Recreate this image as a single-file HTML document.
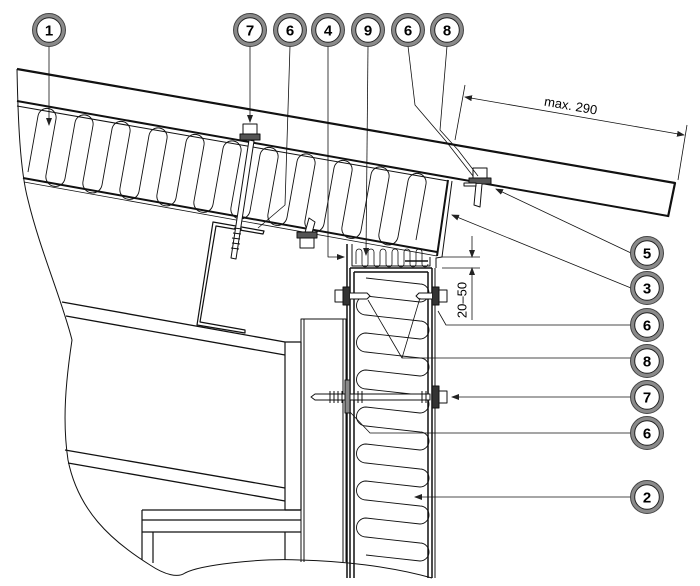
<!DOCTYPE html>
<html><head><meta charset="utf-8"><style>
html,body{margin:0;padding:0;background:#fff}
svg{display:block}
text{font-family:"Liberation Sans",sans-serif}
</style></head><body>
<svg width="700" height="586" viewBox="0 0 700 586" xmlns="http://www.w3.org/2000/svg">
<defs>
<marker id="ar" markerWidth="8" markerHeight="6" refX="7" refY="3" orient="auto" markerUnits="userSpaceOnUse"><path d="M0,0 L8,3 L0,6 z" fill="#222"/></marker>
<g id="hex"><rect x="-6" y="-5" width="12" height="10" fill="#fff" stroke="#111" stroke-width="1.2"/><line x1="-6" y1="0" x2="6" y2="0" stroke="#111"/></g>
</defs>
<g fill="none" stroke="#111" stroke-linejoin="round">
<!-- left break line -->
<path d="M17,69 C18,120 20,170 28,200 C40,250 62,300 72,340 C66,380 62,420 68,460 C78,510 110,540 150,565 C165,575 178,578 185,573 C200,565 260,558 300,560 C340,561 390,566 432,578" stroke-width="1"/>
<!-- roof top sheet -->
<path d="M17,69 L675,183 L668,217" stroke-width="2.2"/>
<path d="M17,101 L668,216" stroke-width="2"/>
<path d="M17,106 L448,181" stroke-width="1"/>
<!-- roof panel bottom -->
<path d="M23,178 L437,252" stroke-width="2"/>
<path d="M24,182 L437,256" stroke-width="0.8"/>
<path d="M448,180 L437,256" stroke-width="2"/>
<path d="M452,181 L442,257 L436,258 L436,268" stroke-width="1"/>
<!-- roof insulation -->
<path d="M28,172 l10 -56 a9 9 0 0 1 18 3 l-10 56 a9.5 9.5 0 0 0 19 3.5 l10 -56 a9 9 0 0 1 18 3 l-10 56 a9.5 9.5 0 0 0 19 3.5 l10 -56 a9 9 0 0 1 18 3 l-10 56 a9.5 9.5 0 0 0 19 3.5 l10 -56 a9 9 0 0 1 18 3 l-10 56 a9.5 9.5 0 0 0 19 3.5 l10 -56 a9 9 0 0 1 18 3 l-10 56 a9.5 9.5 0 0 0 19 3.5 l10 -56 a9 9 0 0 1 18 3 l-10 56 a9.5 9.5 0 0 0 19 3.5 l10 -56 a9 9 0 0 1 18 3 l-10 56 a9.5 9.5 0 0 0 19 3.5 l10 -56 a9 9 0 0 1 18 3 l-10 56 a9.5 9.5 0 0 0 19 3.5 l10 -56 a9 9 0 0 1 18 3 l-10 56 a9.5 9.5 0 0 0 19 3.5 l10 -56 a9 9 0 0 1 18 3 l-10 56 a9.5 9.5 0 0 0 19 3.5 l10 -56 a9 9 0 0 1 18 3 l-10 56" stroke-width="0.9"/>
<!-- Z bracket -->
<path d="M213,222 L264,231 L263,234 L216,226 L200,322 L245,330 L245,333 L197,325 Z" stroke-width="1.2"/>
<!-- I-beam -->
<path d="M62,302 L285,342 M66,316 L285,355 M65,450 L285,488 M68,463 L285,501" stroke-width="1.3"/>
<rect x="285" y="342" width="16" height="168" stroke-width="1.2"/>
<!-- column -->
<path d="M301,562 L301,319 L346,319 L346,562 M304,319 L304,562 M343,319 L343,562" stroke-width="1"/>
<!-- bottom plate -->
<path d="M142,510 L301,510 M142,520 L301,520 M142,532 L301,532 M142,510 L142,560 M153,532 L153,563 M285,532 L285,560" stroke-width="1.2"/>
<!-- wall panel -->
<path d="M347,244 L347,578 M350,268 L350,578 M354,272 L354,578 M428,272 L428,578 M432,268 L432,578" stroke-width="1.5"/>
<path d="M350,268 L432,268 M354,272 L428,272" stroke-width="1.5"/>
<path d="M435,268 L435,578" stroke-width="1"/>
<!-- wall insulation -->
<path d="M366,278 l54 6 a9 9 0 0 1 0 18 l-54 -6 a9.5 9.5 0 0 0 0 19 l54 6 a9 9 0 0 1 0 18 l-54 -6 a9.5 9.5 0 0 0 0 19 l54 6 a9 9 0 0 1 0 18 l-54 -6 a9.5 9.5 0 0 0 0 19 l54 6 a9 9 0 0 1 0 18 l-54 -6 a9.5 9.5 0 0 0 0 19 l54 6 a9 9 0 0 1 0 18 l-54 -6 a9.5 9.5 0 0 0 0 19 l54 6 a9 9 0 0 1 0 18 l-54 -6 a9.5 9.5 0 0 0 0 19 l54 6 a9 9 0 0 1 0 18 l-54 -6 a9.5 9.5 0 0 0 0 19 l54 6 a9 9 0 0 1 0 18 l-54 -6" stroke-width="0.9"/>
<!-- small strip insulation -->
<path d="M352,244 L352,266 L430,266 L430,257" stroke-width="1"/>
<path d="M356,264 l0 -12 a3 3 0 0 1 6 0 l0 12 a3 3 0 0 0 6 0 l0 -12 a3 3 0 0 1 6 0 l0 12 a3 3 0 0 0 6 0 l0 -12 a3 3 0 0 1 6 0 l0 12 a3 3 0 0 0 6 0 l0 -12 a3 3 0 0 1 6 0 l0 12 a3 3 0 0 0 6 0 l0 -12 a3 3 0 0 1 6 0 l0 12 a3 3 0 0 0 6 0 l0 -12 a3 3 0 0 1 6 0 l0 12 a3 3 0 0 0 6 0" stroke-width="0.8"/>
<path d="M405,261 L428,261" stroke-width="1.5"/>
<!-- screws -->
<g stroke-width="1">
<path d="M249,140 L231,258 L236,259 L254,141 Z" fill="#fff"/>
<path d="M234,228 l8 1 M233,233 l8 1 M232,238 l8 1 M232,243 l8 1 M231,248 l8 1" />
<rect x="243" y="124" width="14" height="10" fill="#fff"/><rect x="240" y="134" width="20" height="6" fill="#555"/>
<path d="M303,240 L309,218 L315,222 L310,240" fill="#fff"/>
<rect x="297" y="232" width="20" height="6" fill="#555"/><rect x="300" y="238" width="14" height="10" fill="#fff"/>
<rect x="473" y="168" width="14" height="10" fill="#fff"/><rect x="469" y="178" width="22" height="6" fill="#555"/>
<path d="M476,184 L474,205 L480,207 L482,184" fill="#fff"/>
<rect x="464" y="183" width="12" height="3" fill="#fff"/>
<!-- wall top screws -->
<rect x="335" y="290" width="8" height="12" fill="#fff"/><rect x="343" y="287" width="7" height="18" fill="#333"/>
<path d="M350,293 L367,293 L370,296 L367,299 L350,299" fill="#fff"/>
<rect x="439" y="290" width="8" height="12" fill="#fff"/><rect x="432" y="287" width="7" height="18" fill="#333"/>
<path d="M432,293 L419,293 L416,296 L419,299 L432,299" fill="#fff"/>
<!-- long screw -->
<path d="M315,394 L430,394 L430,400 L315,400 L311,397 Z" fill="#fff"/>
<path d="M330,391 l0 12 M334,391 l0 12 M338,391 l0 12 M342,391 l0 12 M346,391 l0 12 M350,391 l0 12 M354,391 l0 12 M358,391 l0 12 M362,391 l0 12 M426,391 l0 12 M422,391 l0 12"/>
<rect x="345" y="380" width="5" height="33" fill="#888"/>
<rect x="432" y="386" width="7" height="22" fill="#333"/><rect x="439" y="391" width="8" height="12" fill="#fff"/>
</g>
<!-- dimension 20-50 -->
<path d="M442,257 L480,257 M442,268 L480,268" stroke-width="0.8"/>
<path d="M472,236 L472,257" stroke-width="0.8" marker-end="url(#ar)"/>
<path d="M472,320 L472,268" stroke-width="0.8" marker-end="url(#ar)"/>
<!-- dimension max 290 -->
<path d="M465,85 L455,140 M687,125 L678,180" stroke-width="0.8"/>
<path d="M575,116 L465,97" stroke-width="0.8" marker-end="url(#ar)"/>
<path d="M575,116 L684,135" stroke-width="0.8" marker-end="url(#ar)"/>
<!-- leaders -->
<g stroke-width="0.8">
<path d="M49,46 L49,125" marker-end="url(#ar)"/>
<path d="M250,46 L250,122" marker-end="url(#ar)"/>
<path d="M290,46 L285,205 L258,228"/>
<path d="M328,46 L328,257 L344,257" marker-end="url(#ar)"/>
<path d="M368,46 L366,255" marker-end="url(#ar)"/>
<path d="M408,46 L415,105 L445,140 L473,176"/>
<path d="M447,46 L440,130 L458,150 L478,176"/>
<path d="M631,253 L496,189" marker-end="url(#ar)"/>
<path d="M631,288 L452,215" marker-end="url(#ar)"/>
<path d="M631,325 L446,325 L438,311"/>
<path d="M631,358 L402,358 L368,300 M402,358 L420,298"/>
<path d="M631,397 L452,397" marker-end="url(#ar)"/>
<path d="M631,433 L370,433 L350,412"/>
<path d="M631,497 L415,497" marker-end="url(#ar)"/>
</g>
</g>
<text x="463" y="300" font-size="13" text-anchor="middle" transform="rotate(-90 463 300)" dominant-baseline="middle">20–50</text>
<text x="570" y="110" font-size="13" text-anchor="middle" transform="rotate(9.8 570 110)">max. 290</text>
<!-- callouts -->
<g font-size="15" font-weight="bold" text-anchor="middle">
<g id="cc">
</g>
</g>
<g>
<g transform="translate(49,30)"><circle r="14.5" fill="#fff" stroke="#8a8a8a" stroke-width="4"/><circle r="16.5" fill="none" stroke="#444" stroke-width="1"/><circle r="12.3" fill="none" stroke="#222" stroke-width="1"/><text y="5.5" font-size="15" font-weight="bold" text-anchor="middle">1</text></g>
<g transform="translate(250,30)"><circle r="14.5" fill="#fff" stroke="#8a8a8a" stroke-width="4"/><circle r="16.5" fill="none" stroke="#444" stroke-width="1"/><circle r="12.3" fill="none" stroke="#222" stroke-width="1"/><text y="5.5" font-size="15" font-weight="bold" text-anchor="middle">7</text></g>
<g transform="translate(290,30)"><circle r="14.5" fill="#fff" stroke="#8a8a8a" stroke-width="4"/><circle r="16.5" fill="none" stroke="#444" stroke-width="1"/><circle r="12.3" fill="none" stroke="#222" stroke-width="1"/><text y="5.5" font-size="15" font-weight="bold" text-anchor="middle">6</text></g>
<g transform="translate(328,30)"><circle r="14.5" fill="#fff" stroke="#8a8a8a" stroke-width="4"/><circle r="16.5" fill="none" stroke="#444" stroke-width="1"/><circle r="12.3" fill="none" stroke="#222" stroke-width="1"/><text y="5.5" font-size="15" font-weight="bold" text-anchor="middle">4</text></g>
<g transform="translate(368,30)"><circle r="14.5" fill="#fff" stroke="#8a8a8a" stroke-width="4"/><circle r="16.5" fill="none" stroke="#444" stroke-width="1"/><circle r="12.3" fill="none" stroke="#222" stroke-width="1"/><text y="5.5" font-size="15" font-weight="bold" text-anchor="middle">9</text></g>
<g transform="translate(408,30)"><circle r="14.5" fill="#fff" stroke="#8a8a8a" stroke-width="4"/><circle r="16.5" fill="none" stroke="#444" stroke-width="1"/><circle r="12.3" fill="none" stroke="#222" stroke-width="1"/><text y="5.5" font-size="15" font-weight="bold" text-anchor="middle">6</text></g>
<g transform="translate(447,30)"><circle r="14.5" fill="#fff" stroke="#8a8a8a" stroke-width="4"/><circle r="16.5" fill="none" stroke="#444" stroke-width="1"/><circle r="12.3" fill="none" stroke="#222" stroke-width="1"/><text y="5.5" font-size="15" font-weight="bold" text-anchor="middle">8</text></g>
<g transform="translate(647,253)"><circle r="14.5" fill="#fff" stroke="#8a8a8a" stroke-width="4"/><circle r="16.5" fill="none" stroke="#444" stroke-width="1"/><circle r="12.3" fill="none" stroke="#222" stroke-width="1"/><text y="5.5" font-size="15" font-weight="bold" text-anchor="middle">5</text></g>
<g transform="translate(647,288)"><circle r="14.5" fill="#fff" stroke="#8a8a8a" stroke-width="4"/><circle r="16.5" fill="none" stroke="#444" stroke-width="1"/><circle r="12.3" fill="none" stroke="#222" stroke-width="1"/><text y="5.5" font-size="15" font-weight="bold" text-anchor="middle">3</text></g>
<g transform="translate(647,325)"><circle r="14.5" fill="#fff" stroke="#8a8a8a" stroke-width="4"/><circle r="16.5" fill="none" stroke="#444" stroke-width="1"/><circle r="12.3" fill="none" stroke="#222" stroke-width="1"/><text y="5.5" font-size="15" font-weight="bold" text-anchor="middle">6</text></g>
<g transform="translate(647,361)"><circle r="14.5" fill="#fff" stroke="#8a8a8a" stroke-width="4"/><circle r="16.5" fill="none" stroke="#444" stroke-width="1"/><circle r="12.3" fill="none" stroke="#222" stroke-width="1"/><text y="5.5" font-size="15" font-weight="bold" text-anchor="middle">8</text></g>
<g transform="translate(647,397)"><circle r="14.5" fill="#fff" stroke="#8a8a8a" stroke-width="4"/><circle r="16.5" fill="none" stroke="#444" stroke-width="1"/><circle r="12.3" fill="none" stroke="#222" stroke-width="1"/><text y="5.5" font-size="15" font-weight="bold" text-anchor="middle">7</text></g>
<g transform="translate(647,433)"><circle r="14.5" fill="#fff" stroke="#8a8a8a" stroke-width="4"/><circle r="16.5" fill="none" stroke="#444" stroke-width="1"/><circle r="12.3" fill="none" stroke="#222" stroke-width="1"/><text y="5.5" font-size="15" font-weight="bold" text-anchor="middle">6</text></g>
<g transform="translate(647,497)"><circle r="14.5" fill="#fff" stroke="#8a8a8a" stroke-width="4"/><circle r="16.5" fill="none" stroke="#444" stroke-width="1"/><circle r="12.3" fill="none" stroke="#222" stroke-width="1"/><text y="5.5" font-size="15" font-weight="bold" text-anchor="middle">2</text></g>
</g>
</svg>
</body></html>
